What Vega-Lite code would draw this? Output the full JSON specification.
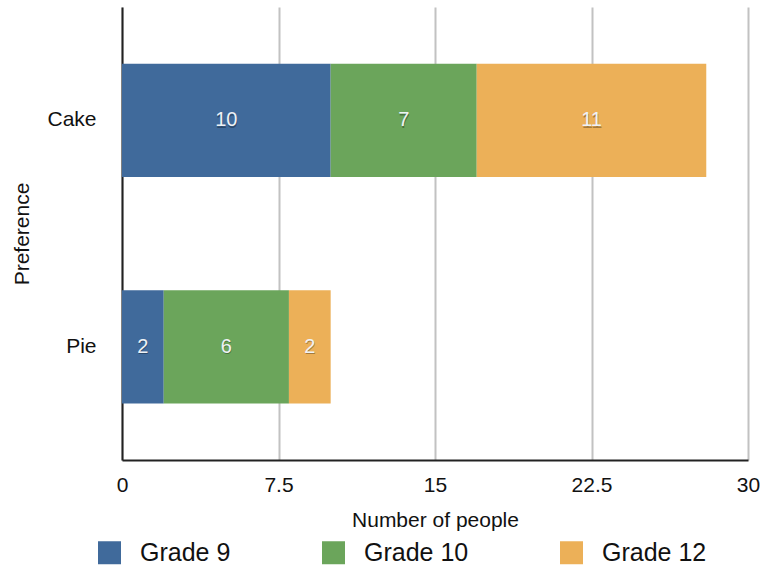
{
  "$schema": "https://vega.github.io/schema/vega-lite/v6.json",
  "width": 626,
  "height": 453,
  "autosize": {"type": "none"},
  "padding": {"left": 122, "top": 7, "right": 18, "bottom": 111},
  "background": "white",
  "config": {
    "font": "Liberation Sans",
    "view": {"stroke": null},
    "axis": {"labelColor": "#111111", "titleColor": "#111111", "titleFontWeight": "normal"}
  },
  "data": {
    "values": [
      {"preference": "Cake", "grade": "Grade 9", "grade_num": 9, "count": 10},
      {"preference": "Cake", "grade": "Grade 10", "grade_num": 10, "count": 7},
      {"preference": "Cake", "grade": "Grade 12", "grade_num": 12, "count": 11},
      {"preference": "Pie", "grade": "Grade 9", "grade_num": 9, "count": 2},
      {"preference": "Pie", "grade": "Grade 10", "grade_num": 10, "count": 6},
      {"preference": "Pie", "grade": "Grade 12", "grade_num": 12, "count": 2}
    ]
  },
  "transform": [
    {
      "stack": "count",
      "groupby": ["preference"],
      "sort": [{"field": "grade_num", "order": "ascending"}],
      "as": ["x0", "x1"]
    }
  ],
  "encoding": {
    "y": {
      "field": "preference",
      "type": "nominal",
      "sort": ["Cake", "Pie"],
      "scale": {"paddingInner": 0.5, "paddingOuter": 0.25},
      "axis": {
        "title": "Preference",
        "titleFontSize": 21,
        "titlePadding": 14,
        "labelFontSize": 21,
        "labelPadding": 26,
        "ticks": false,
        "tickSize": 0,
        "domainColor": "#222222",
        "domainWidth": 2,
        "grid": false
      }
    }
  },
  "layer": [
    {
      "mark": {"type": "bar", "stroke": null},
      "encoding": {
        "x": {
          "field": "x0",
          "type": "quantitative",
          "scale": {"domain": [0, 30], "nice": false},
          "axis": {
            "title": "Number of people",
            "titleFontSize": 21,
            "titlePadding": 14,
            "values": [0, 7.5, 15, 22.5, 30],
            "labelExpr": "'' + datum.value",
            "labelFlush": false,
            "labelFontSize": 21,
            "labelPadding": 14,
            "ticks": false,
            "tickSize": 0,
            "domainColor": "#222222",
            "domainWidth": 2,
            "grid": true,
            "gridColor": "#c2c2c2",
            "gridWidth": 2
          }
        },
        "x2": {"field": "x1"},
        "color": {
          "field": "grade",
          "type": "nominal",
          "sort": ["Grade 9", "Grade 10", "Grade 12"],
          "scale": {
            "domain": ["Grade 9", "Grade 10", "Grade 12"],
            "range": ["#406a9b", "#6ba55b", "#ecb058"]
          },
          "legend": {
            "title": null,
            "orient": "none",
            "legendX": -25,
            "legendY": 533,
            "direction": "horizontal",
            "symbolType": "square",
            "symbolSize": 529,
            "symbolStrokeWidth": 0,
            "symbolOpacity": 1,
            "labelFontSize": 25,
            "labelColor": "#111111",
            "labelOffset": 18,
            "columnPadding": 90
          }
        }
      }
    },
    {
      "transform": [{"fold": ["x0", "x1"], "as": ["edge", "pos"]}],
      "mark": {"type": "text", "fontSize": 20, "color": "#000000", "opacity": 0.3, "dy": 1.5, "dx": 0.5},
      "encoding": {
        "x": {"aggregate": "mean", "field": "pos", "type": "quantitative"},
        "detail": {"field": "grade"},
        "text": {"field": "count", "type": "quantitative"}
      }
    },
    {
      "transform": [{"fold": ["x0", "x1"], "as": ["edge", "pos"]}],
      "mark": {"type": "text", "fontSize": 20, "color": "#eef2f6"},
      "encoding": {
        "x": {"aggregate": "mean", "field": "pos", "type": "quantitative"},
        "detail": {"field": "grade"},
        "text": {"field": "count", "type": "quantitative"}
      }
    }
  ]
}
